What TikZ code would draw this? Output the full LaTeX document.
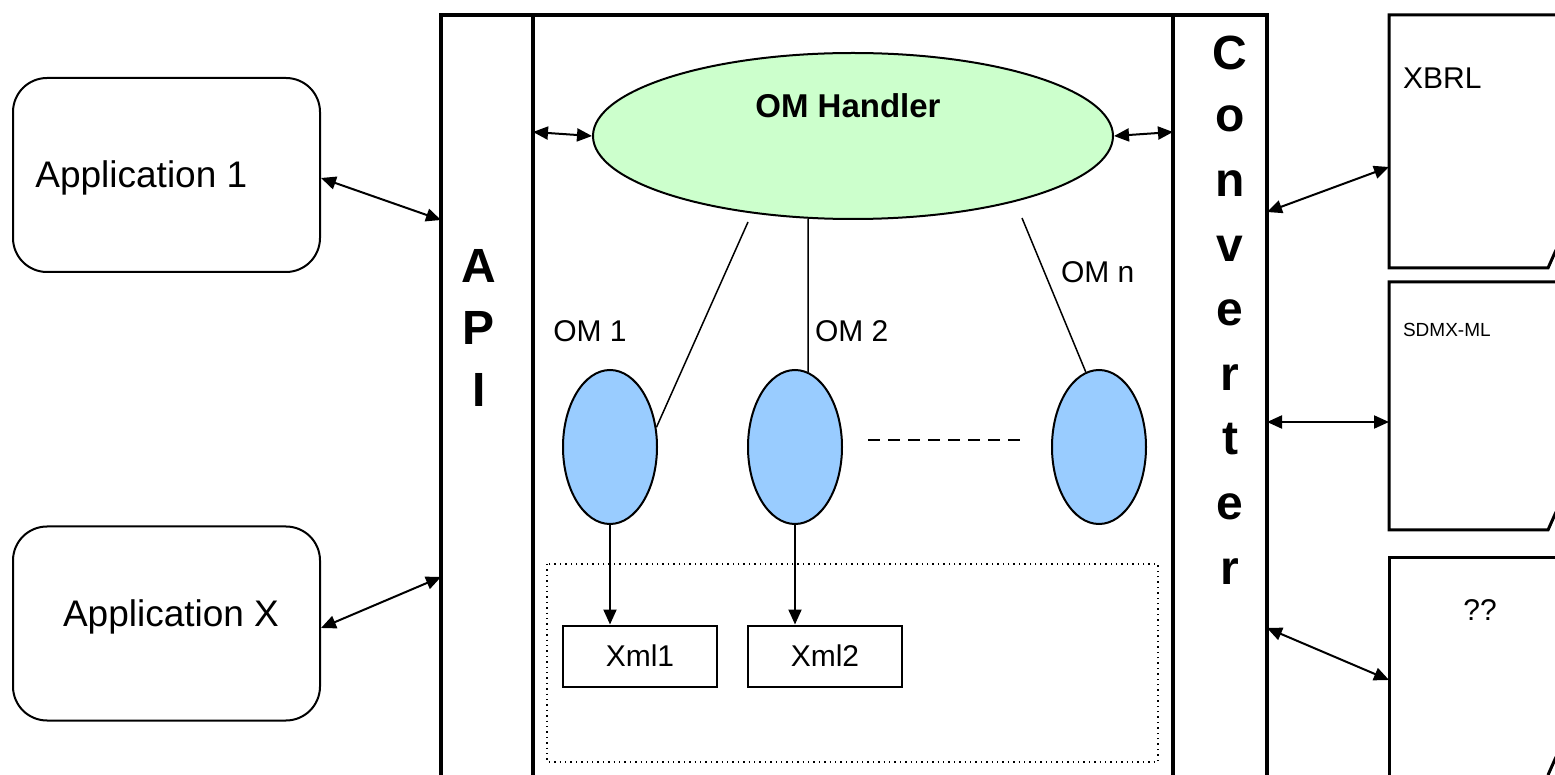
\documentclass[tikz,border=0pt]{standalone}
\usepackage{fontspec}
\setmainfont{Liberation Sans}
\usetikzlibrary{shapes.geometric,arrows.meta}

\definecolor{handlergreen}{HTML}{CCFFCC}
\definecolor{omblue}{HTML}{99CCFF}

\tikzset{
	appbox/.style={draw, rounded corners=17pt, line width=1pt, minimum width=153.5pt, minimum height=97pt, inner sep=0pt},
	handler/.style={ellipse, draw, line width=1pt, fill=handlergreen, minimum width=260pt, minimum height=83pt, inner sep=0pt},
	ombubble/.style={ellipse, draw, line width=1pt, fill=omblue, minimum width=47pt, minimum height=77pt, inner sep=0pt},
	xmlbox/.style={draw, line width=1pt, minimum width=77pt, minimum height=30.5pt, inner sep=0pt, font=\fontsize{15}{18}\selectfont},
	link/.style={line width=1pt, {Triangle[length=7.5pt,width=6.5pt]}-{Triangle[length=7.5pt,width=6.5pt]}},
	down/.style={line width=1pt, -{Triangle[length=7.5pt,width=6.5pt]}},
	omline/.style={line width=0.75pt},
	frame/.style={line width=2pt},
	docline/.style={line width=1.5pt},
	bigletter/.style={font=\fontsize{24}{28}\selectfont\bfseries, anchor=base},
	txt/.style={font=\fontsize{15}{18}\selectfont},
	apptext/.style={font=\fontsize{18.5}{22}\selectfont, inner sep=0pt},
}

\begin{document}
\begin{tikzpicture}[x=0.5pt, y=-0.5pt]
	\clip (0,0) rectangle (1555,775);
	\fill[white] (0,0) rectangle (1555,775);

	% frame with API and converter columns
	\draw[frame] (441,800) -- (441,15) -- (1267,15) -- (1267,800);
	\draw[frame] (533,15) -- (533,800);
	\draw[frame] (1173,15) -- (1173,800);
	\foreach \ch [count=\i] in {A,P,I}
		\node[bigletter] (api\i) at (479,{283+62*(\i-1)}) {\ch};
	\node[bigletter] (conv1) at (1230,70) {C};
	\foreach \ch [count=\i from 2] in {o,n,v,e,r,t,e,r}
		\node[bigletter] (conv\i) at (1230,{132+64.6*(\i-2)}) {\ch};

	% applications
	\node[appbox] (app1) at (166.5,175) {};
	\node[apptext, anchor=west] (app1text) at (35,178) {Application 1};
	\node[appbox] (appx) at (166.5,623.5) {};
	\node[apptext] (appxtext) at (171,617) {Application X};

	\coordinate (apiin1) at (441,220);
	\coordinate (apiinx) at (441,577);
	\draw[link] (app1.east |- 0,178) -- (apiin1);
	\draw[link] (appx.east |- 0,628) -- (apiinx);

	% handler and object models
	\node[handler] (omh) at (853,136) {};
	\node[font=\fontsize{16.5}{19}\selectfont\bfseries] (omhtext) at (848,106) {OM Handler};
	\coordinate (apiout) at (533,132);
	\coordinate (convin) at (1173,132);
	\draw[link] (apiout) -- (omh.west);
	\draw[link] (omh.east) -- (convin);

	\node[ombubble] (om1) at (610,447) {};
	\node[ombubble] (om2) at (795,447) {};
	\node[ombubble] (omn) at (1099,447) {};
	\coordinate (h1) at (748,222);
	\coordinate (h2) at (808,219);
	\coordinate (hn) at (1022,218);
	\draw[omline] (h1) -- (om1.23);
	\draw[omline] (h2) -- (om2.80);
	\draw[omline] (hn) -- (omn.100);
	\node[txt] (lbl1) at (590,331) {OM 1};
	\node[txt, anchor=west] (lbl2) at (808,331) {OM 2};
	\node[txt, anchor=west] (lbln) at (1054,272) {OM n};
	\draw[line width=1pt, dash pattern=on 6pt off 4pt] (868,440) -- (1022,440);

	% xml store
	\draw[line width=0.7pt, dotted] (547,564) rectangle (1158,762);
	\node[xmlbox] (xml1) at (640,656) {Xml1};
	\node[xmlbox] (xml2) at (825,656) {Xml2};
	\draw[down] (om1.south) -- (om1.south |- xml1.north);
	\draw[down] (om2.south) -- (om2.south |- xml2.north);

	% output formats
	\draw[docline] (1600,15) -- (1389,15) -- (1389,268) -- (1548,268) -- (1556,250);
	\draw[docline] (1600,282) -- (1389,282) -- (1389,530) -- (1548,530) -- (1556,512);
	\draw[docline] (1600,558) -- (1389,558) -- (1389,800);
	\draw[docline] (1548,775) -- (1556,757);
	\node[txt, anchor=west] (xbrl) at (1396,78) {XBRL};
	\node[font=\fontsize{9.5}{11}\selectfont, anchor=west] (sdmx) at (1396,330) {SDMX-ML};
	\node[txt] (unknown) at (1480,610) {??};

	\coordinate (convout1) at (1267,212);
	\coordinate (convout2) at (1267,422);
	\coordinate (convout3) at (1267,628);
	\coordinate (docin1) at (1389,167);
	\coordinate (docin2) at (1389,422);
	\coordinate (docin3) at (1389,680);
	\draw[link] (convout1) -- (docin1);
	\draw[link] (convout2) -- (docin2);
	\draw[link] (convout3) -- (docin3);
\end{tikzpicture}
\end{document}
